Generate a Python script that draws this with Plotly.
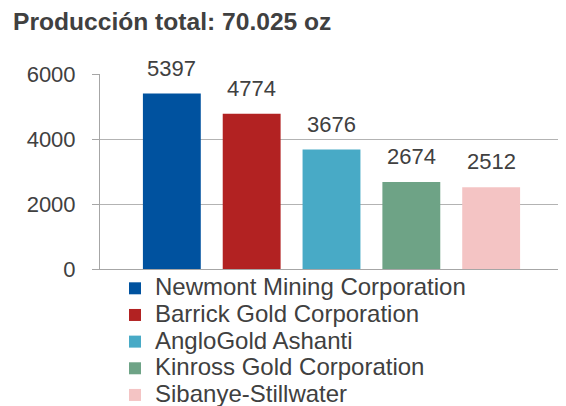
import plotly.graph_objects as go

companies = ["Newmont Mining Corporation", "Barrick Gold Corporation", "AngloGold Ashanti",
             "Kinross Gold Corporation", "Sibanye-Stillwater"]
values = [5397, 4774, 3676, 2674, 2512]
colors = ["#00529f", "#b22222", "#48aac6", "#6ea386", "#f4c4c4"]
title = "Producción total: 70.025 oz"
yticks = [0, 2000, 4000, 6000]

FONT = "Liberation Sans, Arial, sans-serif"
TXT = "#404040"

# page body has an 8px margin; figure sized to fit the 566x406 window
W, H = 558, 398

fig = go.Figure()
for i, (c, v, col) in enumerate(zip(companies, values, colors)):
    fig.add_trace(go.Bar(x=[c], y=[v],
                         name='<span style="font-size:24px">' + c + '</span>',
                         marker=dict(color=col, line=dict(width=0)),
                         width=0.725))
    fig.add_annotation(x=c, y=v, text=str(v), showarrow=False, yanchor="bottom", yshift=11,
                       font=dict(family=FONT, size=22, color=TXT))

fig.update_layout(
    width=W, height=H,
    margin=dict(l=92, r=3, t=66, b=137, autoexpand=False),
    paper_bgcolor="white", plot_bgcolor="white",
    barmode="overlay",
    title=dict(text="<b>" + title + "</b>", x=5 / W, xanchor="left", y=1 - 13 / H, yanchor="middle",
               font=dict(family=FONT, size=24.6, color=TXT)),
    font=dict(family=FONT, size=22, color=TXT),
    showlegend=True,
    legend=dict(x=15 / 463, xanchor="left", y=-0.005, yanchor="top", orientation="v",
                font=dict(family=FONT, size=18.2, color=TXT), tracegroupgap=0,
                bgcolor="rgba(0,0,0,0)", itemwidth=30),
    xaxis=dict(range=[-0.9, 4.9], showticklabels=False, ticks="", showline=True,
               linecolor="#a6a6a6", linewidth=1, showgrid=False, fixedrange=True),
    yaxis=dict(range=[0, 6000], tickvals=yticks, ticks="outside", ticklen=7, tickcolor="#a6a6a6",
               showline=True, linecolor="#a6a6a6", linewidth=1, showgrid=True,
               gridcolor="#b3b3b3", gridwidth=1, zeroline=False,
               tickfont=dict(family=FONT, size=22, color=TXT), ticklabelstandoff=12),
)

fig.write_html("out.html")
